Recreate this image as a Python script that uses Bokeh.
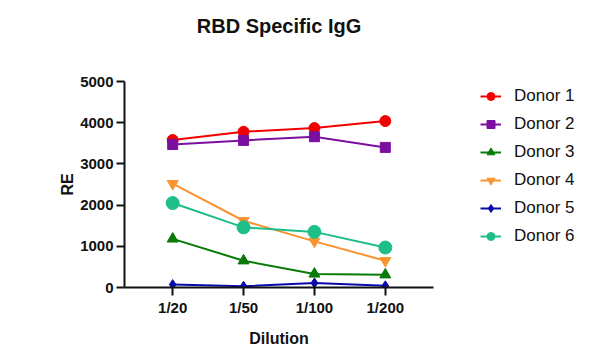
from bokeh.plotting import figure
from bokeh.models import FixedTicker, Legend, LegendItem, Range1d, Title
from bokeh.embed import file_html
from bokeh.resources import INLINE

dilutions = ["1/20", "1/50", "1/100", "1/200"]
donor1 = [3580, 3780, 3870, 4040]
donor2 = [3470, 3570, 3660, 3400]
donor3 = [1180, 650, 330, 310]
donor4 = [2520, 1620, 1120, 650]
donor5 = [70, 30, 110, 40]
donor6 = [2050, 1460, 1350, 970]
names = ["Donor 1", "Donor 2", "Donor 3", "Donor 4", "Donor 5", "Donor 6"]
y_ticks = [0, 1000, 2000, 3000, 4000, 5000]
chart_title = "RBD Specific IgG"

series = [donor1, donor2, donor3, donor4, donor5, donor6]
colors = ["#F20000", "#7A0FA0", "#087A08", "#FA9332", "#0A0AAA", "#1EBE88"]
markers = ["circle", "square", "triangle", "inverted_triangle", "diamond", "circle"]
sizes = [11, 10, 11, 11, 10, 13]

FONT = "Liberation Sans"

p = figure(frame_width=309, frame_height=206, output_backend="svg", toolbar_location=None,
           x_range=Range1d(-0.68, 3.68), y_range=Range1d(0, 5000),
           min_border_left=124, min_border_right=0, min_border_top=81, min_border_bottom=60,
           title=None)
p.outline_line_color = None
p.grid.visible = False
p.background_fill_color = "white"
p.border_fill_color = "white"

# spacer (blank) so that the real title sits higher above the frame
p.add_layout(Title(text=" ", text_font_size="1px", standoff=42), "above")
p.add_layout(Title(text=chart_title, align="center", text_font=FONT, text_font_size="20px",
                   text_font_style="bold", text_color="#111111", standoff=0), "above")

xs = list(range(len(dilutions)))
items = []
for ys, c, m, s, n in zip(series, colors, markers, sizes, names):
    r1 = p.line(xs, ys, line_color=c, line_width=2)
    r2 = p.scatter(xs, ys, marker=m, size=s, fill_color=c, line_color=c)
    items.append(LegendItem(label=n, renderers=[r1, r2]))

legend = Legend(items=items, location=(47, 41), border_line_color=None,
                background_fill_alpha=0, padding=0, margin=0, spacing=8,
                glyph_width=21, glyph_height=20, label_height=20, label_standoff=13,
                label_text_font=FONT, label_text_font_size="17px", label_text_color="#111111")
p.add_layout(legend, "right")

for ax in (p.xaxis[0], p.yaxis[0]):
    ax.axis_line_width = 2
    ax.axis_line_color = "#111111"
    ax.major_tick_line_width = 2
    ax.major_tick_line_color = "#111111"
    ax.minor_tick_line_color = None
    ax.major_tick_in = 0
    ax.major_tick_out = 8
    ax.major_label_text_font = FONT
    ax.major_label_text_font_size = "15px"
    ax.major_label_text_font_style = "bold"
    ax.major_label_text_color = "#111111"
    ax.axis_label_text_font = FONT
    ax.axis_label_text_font_size = "16px"
    ax.axis_label_text_font_style = "bold"
    ax.axis_label_text_color = "#111111"

p.xaxis.ticker = FixedTicker(ticks=xs)
p.xaxis.major_label_overrides = {i: d for i, d in enumerate(dilutions)}
p.xaxis.axis_label = "Dilution"
p.xaxis.major_label_standoff = 3
p.xaxis.axis_label_standoff = 11
p.yaxis.ticker = FixedTicker(ticks=y_ticks)
p.yaxis.axis_label = "RE"
p.yaxis.major_label_standoff = 3
p.yaxis.axis_label_standoff = 1

open("out.html", "w").write(file_html(p, INLINE))
